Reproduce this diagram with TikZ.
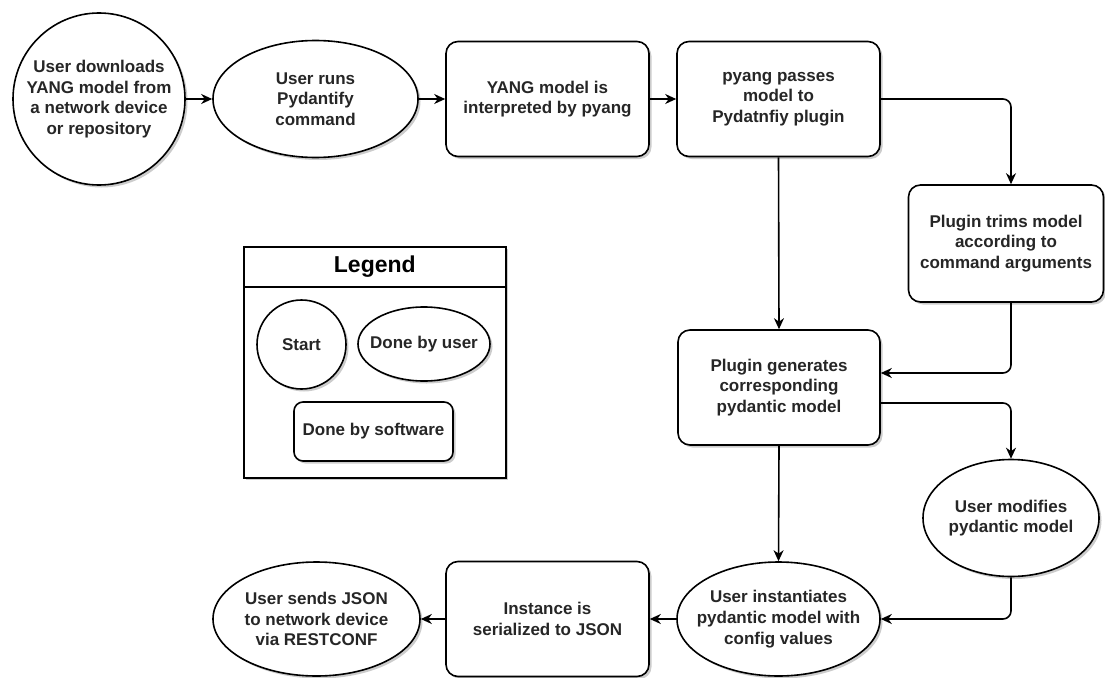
\documentclass[tikz,border=0pt]{standalone}
\usepackage{fontspec}
\setmainfont{Liberation Sans}
\usetikzlibrary{arrows.meta,shapes.geometric,shadows}
\begin{document}
\begin{tikzpicture}[x=1pt,y=-1pt,
  line width=1.6pt,
  txt/.style={font=\fontsize{17}{20.7}\selectfont\bfseries, text=black!85, align=center, inner sep=0pt},
  shad/.style={drop shadow={shadow xshift=2.5pt,shadow yshift=-2.5pt,fill=black,opacity=0.2}},
  startnode/.style={circle, draw, fill=white, shad, inner sep=0pt, minimum size=#1},
  usernode/.style 2 args={ellipse, draw, fill=white, shad, inner sep=0pt, minimum width=#1, minimum height=#2},
  softnode/.style 2 args={rectangle, rounded corners=12pt, draw, fill=white, shad, txt, minimum width=#1, minimum height=#2},
  arr/.style={-{Stealth[length=11pt,width=10pt,inset=3.5pt]}, rounded corners=8pt, line width=1.6pt},
]
\fill[white] (0,0) rectangle (1105,677);
\useasboundingbox (0,0) rectangle (1105,677);

% main flow
\node[startnode=172pt, label={[txt]center:User downloads\\YANG model from\\a network device\\or repository}] (dl) at (99,99) {};
\node[usernode={205pt}{117pt}, label={[txt]center:User runs\\Pydantify\\command}] (run) at (315.5,99) {};
\node[softnode={203pt}{115pt}] (interp) at (547.5,99) {YANG model is\\interpreted by pyang};
\node[softnode={203pt}{115pt}] (pass) at (778.5,99) {pyang passes\\model to\\Pydatnfiy plugin};
\node[softnode={195pt}{117pt}] (trims) at (1006,243.5) {Plugin trims model\\according to\\command arguments};
\node[softnode={202pt}{115pt}] (gen) at (779,387.5) {Plugin generates\\corresponding\\pydantic model};
\node[usernode={176pt}{117pt}, label={[txt]center:User modifies\\pydantic model}] (modify) at (1011,518) {};
\node[usernode={203pt}{114pt}, label={[txt]center:User instantiates\\pydantic model with\\config values}] (inst) at (778.5,619) {};
\node[softnode={203pt}{115pt}] (serial) at (547.5,619) {Instance is\\serialized to JSON};
\node[usernode={207pt}{114pt}, label={[txt]center:User sends JSON\\to network device\\via RESTCONF}] (send) at (316.5,619) {};

% legend
\node[rectangle, draw, fill=white, shad, minimum width=262pt, minimum height=231pt, anchor=north west, inner sep=0pt] (legbox) at (243,246) {};
\node[rectangle, draw, minimum width=262pt, minimum height=40pt, anchor=north west, inner sep=0pt, font=\fontsize{23}{27}\selectfont\bfseries] (legtitle) at (243,246) {Legend};
\node[startnode=89pt, label={[txt]center:Start}] (lstart) at (301.5,344.5) {};
\node[usernode={132pt}{74pt}, label={[txt]center:Done by user}] (luser) at (424,344) {};
\node[softnode={159pt}{59pt}, rounded corners=9pt] (lsoft) at (373.5,431.5) {Done by software};

% connectors
\draw[arr] (dl.east) -- (run.west);
\draw[arr] (run.east) -- (interp.west);
\draw[arr] (interp.east) -- (pass.west);
\draw[arr] (pass.east) -| ([xshift=5pt]trims.north);
\draw[arr] (pass.south) -- (gen.north);
\draw[arr] ([xshift=5pt]trims.south) |- ([yshift=14.5pt]gen.east);
\draw[arr] ([yshift=-15.5pt]gen.east) -| (modify.north);
\draw[arr] (gen.south) -- (inst.north);
\draw[arr] (modify.south) |- (inst.east);
\draw[arr] (inst.west) -- (serial.east);
\draw[arr] (serial.west) -- (send.east);
\end{tikzpicture}
\end{document}
